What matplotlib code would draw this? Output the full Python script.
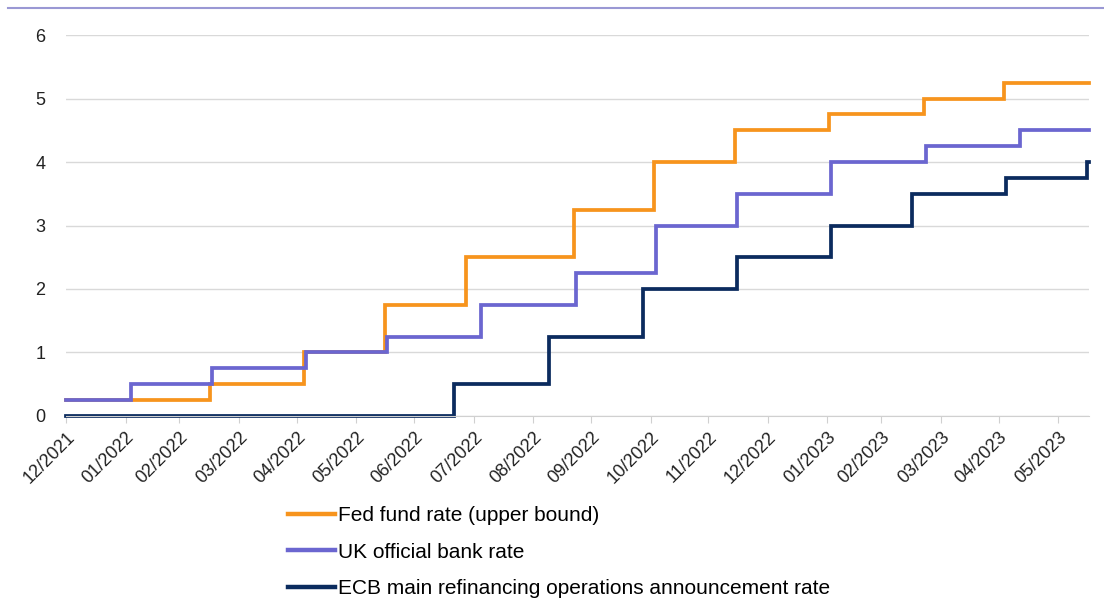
import matplotlib
matplotlib.use("Agg")
import matplotlib.pyplot as plt
from matplotlib.lines import Line2D
import pandas as pd

plt.rcParams['font.family'] = ['Liberation Sans', 'DejaVu Sans']

# rate change dates (announcement) and new levels
fed_dates = ['2021-12-31', '2022-03-16', '2022-05-04', '2022-06-15', '2022-07-27',
             '2022-09-21', '2022-11-02', '2022-12-14', '2023-02-01', '2023-03-22',
             '2023-05-03', '2023-06-16']
fed_rates = [0.25, 0.5, 1.0, 1.75, 2.5, 3.25, 4.0, 4.5, 4.75, 5.0, 5.25, 5.25]

uk_dates = ['2021-12-31', '2022-02-03', '2022-03-17', '2022-05-05', '2022-06-16',
            '2022-08-04', '2022-09-22', '2022-11-03', '2022-12-15', '2023-02-02',
            '2023-03-23', '2023-05-11', '2023-06-16']
uk_rates = [0.25, 0.5, 0.75, 1.0, 1.25, 1.75, 2.25, 3.0, 3.5, 4.0, 4.25, 4.5, 4.5]

ecb_dates = ['2021-12-31', '2022-07-21', '2022-09-08', '2022-10-27', '2022-12-15',
             '2023-02-02', '2023-03-16', '2023-05-04', '2023-06-15', '2023-06-16']
ecb_rates = [0.0, 0.5, 1.25, 2.0, 2.5, 3.0, 3.5, 3.75, 4.0, 4.0]

series = [
    ('Fed fund rate (upper bound)', fed_dates, fed_rates, '#F7941D'),
    ('UK official bank rate', uk_dates, uk_rates, '#6B66D0'),
    ('ECB main refinancing operations announcement rate', ecb_dates, ecb_rates, '#0B2B5E'),
]

fig = plt.figure(figsize=(11.04, 6.07), dpi=100)
ax = fig.add_axes([0.0598, 0.3147, 0.9266, 0.6276])

for label, d, r, c in series:
    ax.step(pd.to_datetime(d), r, where='post', color=c, lw=2.7, label=label,
            solid_joinstyle='miter', clip_on=False)

ax.set_ylim(0, 6)
ax.set_yticks(range(0, 7))
ax.set_xlim(pd.Timestamp('2021-12-31'), pd.Timestamp('2023-06-16'))

ticks = pd.date_range('2021-12-31', '2023-05-31', freq='ME')
ax.set_xticks(ticks)
ax.set_xticklabels([t.strftime('%m/%Y') for t in ticks], rotation=45, ha='right',
                   rotation_mode='anchor', fontsize=13, color='#222222')
ax.tick_params(axis='x', length=5, color='#d0d0d0', pad=4)
ax.tick_params(axis='y', length=0, pad=15, labelsize=13, labelcolor='#222222')

ax.grid(axis='y', color='#d9d9d9', lw=1)
ax.set_axisbelow(True)
for s in ['top', 'right', 'left']:
    ax.spines[s].set_visible(False)
ax.spines['bottom'].set_color('#d0d0d0')

# thin rule across the top of the figure
fig.add_artist(Line2D([0.007, 1.0], [0.987, 0.987], transform=fig.transFigure,
                      color='#9a98d4', lw=1.5))

leg = fig.legend(loc='upper left', bbox_to_anchor=(0.261, 0.166), frameon=False,
                 fontsize=15, handlelength=2.25, handletextpad=0.15, labelspacing=0.84,
                 borderaxespad=0, borderpad=0)
for h in leg.get_lines():
    h.set_linewidth(3.2)

fig.savefig('out.png', dpi=100)
